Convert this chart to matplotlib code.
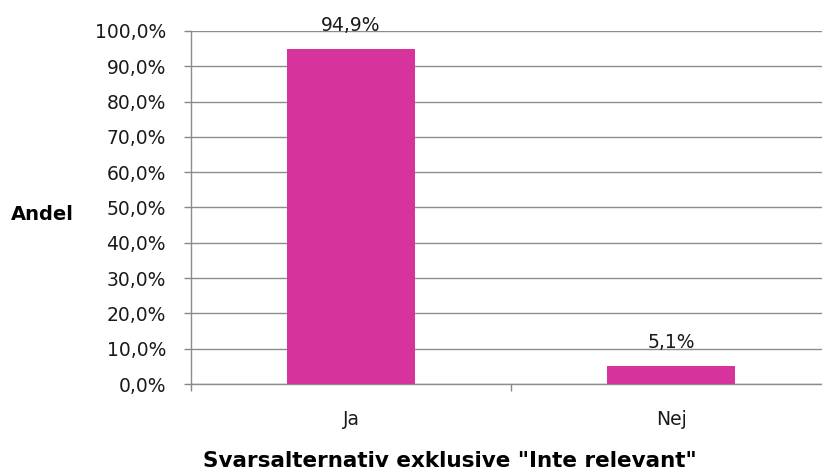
import matplotlib
matplotlib.use("Agg")
import matplotlib.pyplot as plt
from matplotlib.ticker import FuncFormatter, MultipleLocator

categories = ["Ja", "Nej"]
values = [94.9, 5.1]
value_labels = ["94,9%", "5,1%"]

plt.rcParams['font.family'] = ['DejaVu Sans']

fig = plt.figure(figsize=(8.22, 4.73), dpi=100)
ax = fig.add_axes([191/822, 1-384/473, 640/822, (384-31)/473])

x = list(range(len(categories)))
bars = ax.bar(x, values, width=0.4, color="#D6339C", zorder=3)
for xi, v, lab in zip(x, values, value_labels):
    ax.annotate(lab, (xi, v), xytext=(0, 13), textcoords="offset points",
                ha="center", va="baseline", fontsize=13.5, color="#1a1a1a")

ax.set_xlim(-0.5, 1.5)
ax.set_ylim(0, 100)
ax.yaxis.set_major_locator(MultipleLocator(10))
ax.yaxis.set_major_formatter(FuncFormatter(lambda v, p: f"{v:.1f}".replace(".", ",") + "%"))
ax.set_xticks([-0.5, 0.5, 1.5])
ax.set_xticklabels([])
ax.set_xticks(x, minor=True)
ax.set_xticklabels(categories, minor=True)
ax.tick_params(axis="x", which="minor", length=0, pad=19, labelsize=13.5, colors="#1a1a1a")
ax.tick_params(axis="x", which="major", length=5, color="#888888", width=1)
ax.tick_params(axis="y", length=5, color="#888888", width=1, pad=13, labelsize=13.5, labelcolor="#1a1a1a")
ax.grid(axis="y", color="#8c8c8c", linewidth=1, zorder=0)
for s in ["top", "right"]:
    ax.spines[s].set_visible(False)
for s in ["left", "bottom"]:
    ax.spines[s].set_color("#8c8c8c")
    ax.spines[s].set_linewidth(1)

fig.text(42/822, 1-214/473, "Andel", fontsize=14, fontweight="bold", ha="center", va="center")
fig.text(450/822, 1-467/473, "Svarsalternativ exklusive \"Inte relevant\"", fontsize=15.5,
         fontweight="bold", ha="center", va="baseline")

fig.savefig("out.png", dpi=100)
